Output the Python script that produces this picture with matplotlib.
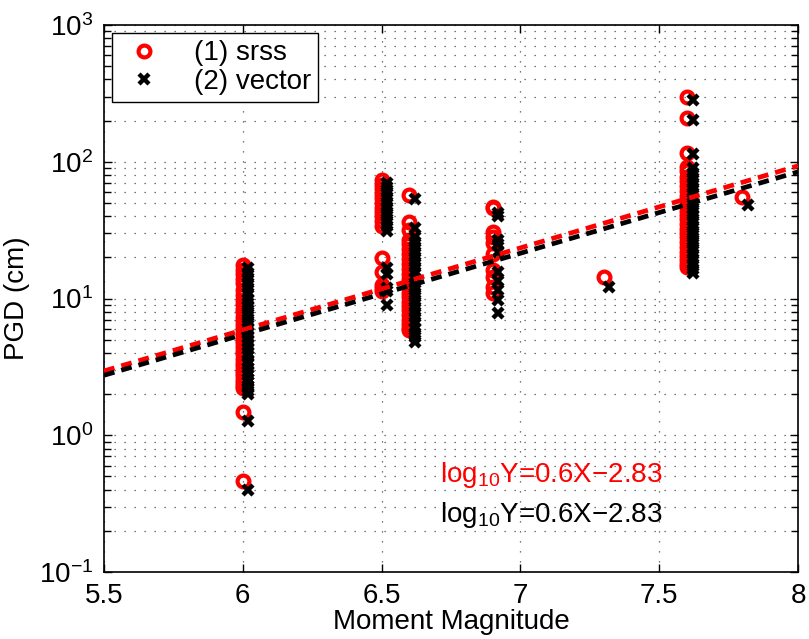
import numpy as np
import matplotlib
matplotlib.use('Agg')
import matplotlib.pyplot as plt
from matplotlib.ticker import FixedLocator, LogLocator, NullFormatter, FuncFormatter

plt.rcParams['font.family'] = ['Liberation Sans', 'DejaVu Sans']
plt.rcParams['mathtext.default'] = 'regular'
plt.rcParams['axes.unicode_minus'] = True

# --- PGD per event magnitude (cm): srss and vector amplitudes ---------------
mw = [6.0, 6.5, 6.6, 6.9, 7.3, 7.6, 7.8]

srss_60 = [17.6, 16.2, 15.0, 13.8, 12.9, 11.5, 10.6, 9.8, 9.1, 8.4,
           7.9, 7.3, 6.8, 6.4, 6.0, 5.6, 5.3, 5.0, 4.7, 4.4,
           4.1, 3.9, 3.6, 3.4, 3.2, 3.0, 2.85, 2.7, 2.55, 2.4,
           2.3, 2.2, 1.48, 0.46]
vec_60 = [16.7, 15.4, 14.2, 13.0, 12.0, 10.9, 10.0, 9.3, 8.6, 8.0,
          7.4, 6.9, 6.4, 6.0, 5.6, 5.2, 4.9, 4.6, 4.3, 4.0,
          3.8, 3.5, 3.3, 3.1, 2.9, 2.75, 2.6, 2.45, 2.3, 2.2,
          2.1, 2.0, 1.28, 0.40]

srss_65 = [73, 68, 63, 58, 54, 50, 46, 43, 40, 37, 34,
           19.8, 15.7, 12.5, 11.9, 11.3]
vec_65 = [70, 65, 60, 55, 51, 47, 43, 40, 37, 34, 31,
          16.7, 15.0, 12.0, 11.3, 9.0]

srss_66 = [57, 36.3, 31.6, 27, 25, 23, 21, 19.5, 18, 16.5,
           15.2, 14, 13, 12, 11, 10.2, 9.5, 8.8, 8.2, 7.6,
           7.0, 6.5, 6.1, 5.9]
vec_66 = [53, 33, 28, 25.7, 24, 22, 20, 18.5, 17, 15.5,
          14.2, 13, 12, 11, 10.2, 9.4, 8.6, 8.0, 7.3, 6.7,
          6.1, 5.6, 5.2, 4.8]

srss_69 = [47, 46, 30.5, 28, 25.6, 21, 16.2, 14.3, 12.1, 11.0]
vec_69 = [42, 40, 27, 25, 22, 15.5, 13.5, 11.5, 9.8, 7.8]

srss_73 = [14.4]
vec_73 = [12.1]

srss_76 = [298, 209, 116, 92, 85, 78, 72, 66, 61, 56,
           52, 48, 44, 41, 38, 35, 32, 30, 28, 26,
           24, 22, 20.5, 19, 17.8, 17]
vec_76 = [283, 202, 113, 90, 83, 76, 70, 64, 59, 54,
          50, 46, 43, 40, 37, 34, 31, 29, 27, 25,
          23, 21, 19.5, 18, 16.5, 15.4]

srss_78 = [55]
vec_78 = [48]

srss = [srss_60, srss_65, srss_66, srss_69, srss_73, srss_76, srss_78]
vec = [vec_60, vec_65, vec_66, vec_69, vec_73, vec_76, vec_78]

# least-squares fits  log10(PGD) = a*Mw + b
fit_srss = (0.600, -2.830)
fit_vec = (0.595, -2.834)

x_off = 0.02   # vector points nudged right so both sets stay visible


def flat(groups, shift=0.0):
    xs, ys = [], []
    for m, g in zip(mw, groups):
        xs += [m + shift] * len(g)
        ys += list(g)
    return np.array(xs), np.array(ys)


fig = plt.figure(figsize=(8.09, 6.39), dpi=100)
ax = fig.add_axes([104 / 809, 67 / 639, 694 / 809, 547 / 639])

xs, ys = flat(srss)
xv, yv = flat(vec, x_off)
ax.plot(xs, ys, 'o', ls='none', mfc='none', mec='red', ms=8.5, mew=3.0,
        label='(1) srss', zorder=3)
ax.plot(xv, yv, 'x', ls='none', color='black', ms=6.5, mew=3.2,
        label='(2) vector', zorder=3)

xx = np.array([5.5, 8.0])
dash = (0, (2.3, 1.5))
for (a, b), col in zip([fit_srss, fit_vec], ['red', 'black']):
    ax.plot(xx, 10 ** (a * xx + b), color=col, lw=3.4, ls=dash, zorder=4)

ax.set_yscale('log')
ax.set_xlim(5.5, 8)
ax.set_ylim(0.1, 1000)
ax.xaxis.set_major_locator(FixedLocator([5.5, 6, 6.5, 7, 7.5, 8]))
ax.xaxis.set_major_formatter(FuncFormatter(lambda v, p: f'{v:g}'))
ax.yaxis.set_major_locator(LogLocator(base=10, numticks=10))
ax.yaxis.set_minor_locator(LogLocator(base=10, subs=np.arange(2, 10), numticks=10))
ax.yaxis.set_minor_formatter(NullFormatter())
ax.yaxis.set_major_formatter(
    FuncFormatter(lambda v, p: r'$10^{%d}$' % round(np.log10(v))))

ax.tick_params(which='both', direction='in', top=True, right=True,
               labelsize=20, width=1.0)
ax.tick_params(which='major', length=6, pad=8)
ax.tick_params(which='minor', length=5)
for s in ax.spines.values():
    s.set_linewidth(1.2)

grid_ls = (0, (1, 7))
ax.grid(True, which='major', axis='both', color='0.3', lw=0.9, ls=grid_ls)
ax.grid(True, which='minor', axis='y', color='0.3', lw=0.9, ls=grid_ls)
ax.set_axisbelow(True)

ax.set_xlabel('Moment Magnitude', fontsize=20, labelpad=0)
ax.set_ylabel('PGD (cm)', fontsize=20, labelpad=6)

for (a, b), col, yt in zip([fit_srss, fit_vec], ['red', 'black'], [0.455, 0.232]):
    ax.text(6.71, yt, 'log$_{10}$Y=%.1fX\u2212%.2f' % (a, -b), color=col,
            fontsize=20, va='baseline', ha='left')

leg = ax.legend(loc='upper left', fontsize=20, frameon=True, fancybox=False,
                edgecolor='black', framealpha=1, borderaxespad=0.3,
                handlelength=1.8, handletextpad=0.9, borderpad=0.25,
                labelspacing=0.1)
leg.get_frame().set_linewidth(1.0)

fig.savefig('out.png', dpi=100)
